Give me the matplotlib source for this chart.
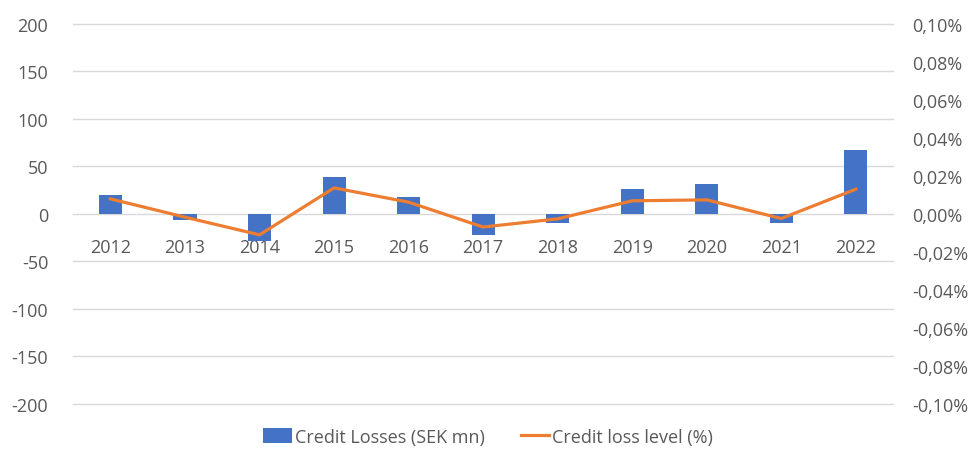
import numpy as np
import matplotlib
matplotlib.use('Agg')
import matplotlib.pyplot as plt
from matplotlib.ticker import FuncFormatter

years = ['2012', '2013', '2014', '2015', '2016', '2017', '2018', '2019', '2020', '2021', '2022']
losses = [20, -6, -28, 39, 18, -22, -10, 26, 31, -10, 67]
loss_level = [0.0079, -0.0017, -0.0110, 0.0137, 0.0062, -0.0069, -0.0026, 0.0069, 0.0074, -0.0024, 0.0130]

plt.rcParams['font.family'] = ['Open Sans', 'DejaVu Sans']
plt.rcParams['axes.unicode_minus'] = False

fig = plt.figure(figsize=(9.76, 4.52), dpi=100)
ax = fig.add_axes([0.075, 0.104, 0.84, 0.841])
ax2 = ax.twinx()

x = np.arange(len(years))
ax.bar(x, losses, width=0.31, color='#4472C4', zorder=3, label='Credit Losses (SEK mn)')
ax2.plot(x, loss_level, color='#ED7D31', lw=2.3, zorder=4, label='Credit loss level (%)')

ax.set_xlim(-0.5, len(years) - 0.5)
ax.set_ylim(-200, 200)
ax.set_yticks(np.arange(-200, 201, 50))
ax2.set_ylim(-0.1, 0.1)
ax2.set_yticks(np.arange(-0.1, 0.1001, 0.02))
ax2.yaxis.set_major_formatter(FuncFormatter(lambda v, p: ('%.2f%%' % v).replace('-0.00', '0.00').replace('.', ',')))

for yv in np.arange(-200, 201, 50):
    ax.axhline(yv, color='#D9D9D9', lw=1, zorder=0, clip_on=False)
ax.set_xticks(x)
ax.set_xticklabels(years)
ax.spines['bottom'].set_position(('data', 0))
for a in (ax, ax2):
    for s in a.spines.values():
        s.set_visible(False)
    a.tick_params(length=0, labelsize=13, colors='#595959')
ax.tick_params(axis='x', pad=17)
ax.tick_params(axis='y', pad=18)
ax2.tick_params(axis='y', pad=14)

h1, l1 = ax.get_legend_handles_labels()
h2, l2 = ax2.get_legend_handles_labels()
leg = fig.legend(h1 + h2, l1 + l2, loc='lower center', bbox_to_anchor=(0.5, -0.025), ncol=2,
                 frameon=False, fontsize=13, handlelength=1.6, handleheight=0.9, columnspacing=2.0,
                 handletextpad=0.15)
for t in leg.get_texts():
    t.set_color('#595959')

fig.savefig('out.png', dpi=100)
